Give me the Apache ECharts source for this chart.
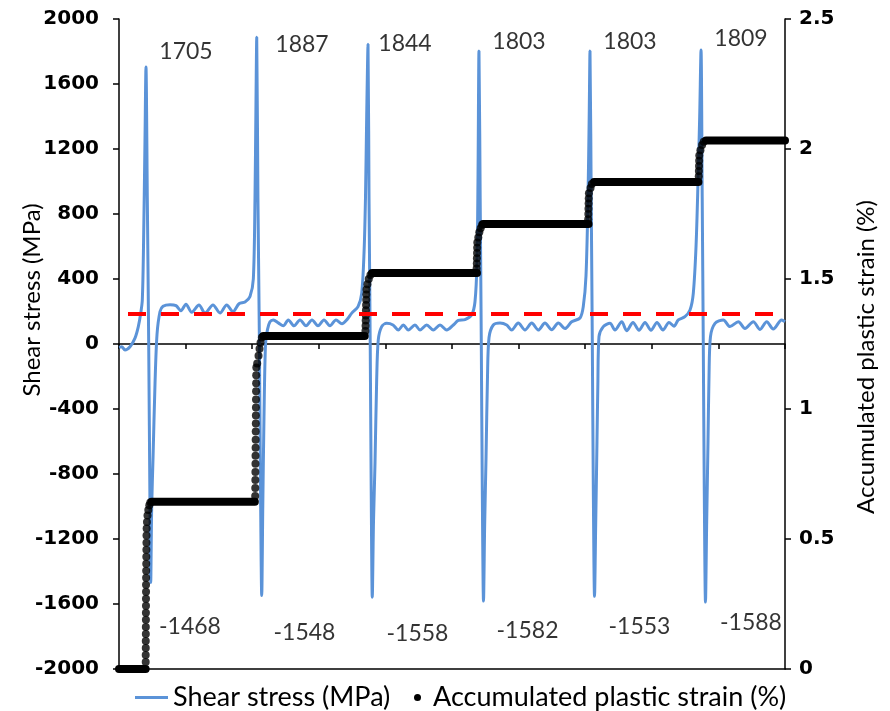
<!DOCTYPE html>
<html>
<head>
<meta charset="utf-8">
<script src="https://cdn.jsdelivr.net/npm/echarts@6/dist/echarts.min.js"></script>
<style>html,body{margin:0;padding:0;background:#fff}#c{width:890px;height:711px}</style>
</head>
<body>
<div id="c"></div>
<script>
// ---- Data ----
// x axis: time in tick units (0..10), unlabeled
const stressTime = [
  0.000,0.041,0.090,0.165,0.240,0.290,0.326,0.350,0.368,0.390,0.405,0.425,0.446,0.465,0.476,0.491,0.511,0.541,0.571,0.616,0.661,0.766,0.856,0.931,1.006,1.092,1.201,1.291,1.411,1.517,1.617,1.712,1.802,1.892,1.967,2.017,2.042,2.057,2.068,
  2.086,2.107,2.125,2.143,2.159,2.177,2.200,2.230,2.267,2.317,2.392,2.467,2.542,2.628,2.718,2.808,2.898,2.988,3.078,3.168,3.258,3.348,3.423,3.495,3.589,3.644,3.679,3.701,3.719,3.739,
  3.754,3.772,3.787,3.803,3.821,3.844,3.869,3.893,3.944,4.019,4.114,4.194,4.269,4.344,4.444,4.520,4.620,4.719,4.820,4.920,5.020,5.095,5.195,5.296,5.345,5.375,5.390,5.405,
  5.423,5.440,5.455,5.473,5.491,5.511,5.533,5.556,5.620,5.721,5.821,5.896,5.995,6.096,6.197,6.296,6.396,6.497,6.596,6.697,6.797,6.922,6.971,7.012,7.042,7.060,7.072,
  7.090,7.107,7.122,7.140,7.158,7.177,7.190,7.207,7.272,7.372,7.447,7.548,7.623,7.718,7.808,7.898,7.988,8.078,8.168,8.258,8.333,8.398,8.498,8.574,8.623,8.664,8.694,8.719,8.739,
  8.757,8.773,8.788,8.806,8.824,8.844,8.859,8.881,8.949,9.074,9.174,9.299,9.399,9.524,9.625,9.725,9.824,9.950,10.000
];
const stressValue = [
  -20,-17,-37,-17,36,107,189,271,600,1250,1705,900,0,-1000,-1468,-1000,-700,-240,60,200,232,242,236,205,245,196,240,191,240,191,240,200,248,258,292,400,900,1500,1887,
  900,60,-900,-1548,-1000,-450,0,90,137,148,130,112,148,112,148,112,148,112,148,112,148,125,150,190,230,312,560,900,1400,1844,
  900,0,-900,-1558,-1100,-733,-221,25,107,127,117,86,117,86,117,86,117,86,117,86,117,145,150,180,260,500,1000,1803,
  900,0,-900,-1582,-1100,-700,-200,40,117,129,117,86,129,86,129,86,129,88,129,95,137,160,230,420,900,1400,1803,
  900,0,-900,-1553,-1100,-600,-250,45,107,127,86,137,82,133,84,133,84,133,86,133,110,148,168,209,312,600,1000,1400,1809,
  900,0,-900,-1588,-1100,-600,-200,45,127,148,107,137,96,137,90,137,92,148,137
];

// accumulated plastic strain: constant plateaus between cycles
const plateauStart = [0.000, 0.490, 2.167, 3.800, 5.465, 7.133, 8.814];
const plateauEnd   = [0.400, 2.040, 3.690, 5.375, 7.050, 8.700, 10.000];
const plateauValue = [0.000, 0.643, 1.281, 1.523, 1.712, 1.873, 2.033];
// points recorded during each jump
const riseTime = [
  0.401,0.401,0.402,0.402,0.403,0.403,0.404,0.404,0.405,0.405,0.406,0.406,0.407,0.408,0.409,0.410,0.411,0.412,0.413,0.415,0.420,0.428,0.440,0.455,0.470,
  2.045,2.046,2.047,2.048,2.049,2.050,2.051,2.052,2.053,2.054,2.055,2.056,2.057,2.058,2.059,2.060,2.062,2.075,2.095,2.110,2.125,2.145,
  3.700,3.702,3.704,3.706,3.708,3.710,3.712,3.714,3.716,3.730,3.750,3.775,
  5.370,5.372,5.374,5.376,5.378,5.380,5.395,5.410,5.430,5.450,
  7.045,7.047,7.049,7.051,7.053,7.056,7.080,7.100,
  8.705,8.707,8.709,8.711,8.713,8.730,8.755,8.780
];
const riseStrain = [
  0.027,0.054,0.081,0.108,0.135,0.162,0.189,0.216,0.243,0.270,0.297,0.324,0.351,0.378,0.405,0.432,0.459,0.486,0.513,0.540,0.565,0.590,0.612,0.630,0.640,
  0.665,0.696,0.727,0.758,0.789,0.820,0.851,0.882,0.913,0.944,0.975,1.006,1.037,1.068,1.099,1.130,1.160,1.175,1.205,1.232,1.255,1.275,
  1.300,1.320,1.340,1.360,1.380,1.400,1.420,1.440,1.460,1.480,1.500,1.515,
  1.540,1.560,1.580,1.600,1.620,1.640,1.660,1.680,1.695,1.708,
  1.730,1.750,1.770,1.790,1.810,1.830,1.850,1.865,
  1.895,1.915,1.935,1.955,1.975,1.995,2.015,2.028
];

const thresholdStress = 185;

const peakValues   = [1705, 1887, 1844, 1803, 1803, 1809];
const valleyValues = [-1468, -1548, -1558, -1582, -1553, -1588];
// label anchor positions (data coordinates)
const peakLabelX   = [1.006, 2.748, 4.294, 6.006, 7.673, 9.339];
const peakLabelY   = [1797, 1840, 1846, 1862, 1862, 1877];
const valleyLabelX = [1.066, 2.785, 4.482, 6.134, 7.815, 9.489];
const valleyLabelY = [-1742, -1778, -1785, -1763, -1742, -1717];

const leftTicks = {min: -2000, max: 2000, interval: 400};
const rightTicks = {min: 0, max: 2.5, interval: 0.5};

const S1 = 'Shear stress (MPa)';
const S2 = 'Accumulated plastic strain (%)';

// ---- build series data ----
const stressData = stressTime.map((t, i) => [t, stressValue[i]]);
const plateauData = [];
plateauStart.forEach((s, i) => {
  plateauData.push([s, plateauValue[i]]);
  plateauData.push([plateauEnd[i], plateauValue[i]]);
  if (i < plateauStart.length - 1) plateauData.push([plateauEnd[i], '-']);
});
const riseData = riseTime.map((t, i) => [t, riseStrain[i]]);
const annotData = [];
peakValues.forEach((v, i) => annotData.push({name: String(v), value: [peakLabelX[i], peakLabelY[i]]}));
valleyValues.forEach((v, i) => annotData.push({name: String(v), value: [valleyLabelX[i], valleyLabelY[i]]}));

const FONT_T = 'Lato, "Open Sans", sans-serif';
const FONT_N = '"DejaVu Sans", Verdana, sans-serif';

const chart = echarts.init(document.getElementById('c'), null, {renderer: 'canvas'});
chart.setOption({
  animation: false,
  backgroundColor: '#ffffff',
  grid: {left: 119, right: 105, top: 19, bottom: 42},
  xAxis: [
    {type: 'value', min: 0, max: 10, interval: 1, position: 'top',
     axisLine: {show: true, onZero: true, onZeroAxisIndex: 0, lineStyle: {color: '#000', width: 1.5}},
     axisTick: {show: true, inside: true, length: 5, lineStyle: {color: '#000', width: 1.5}},
     axisLabel: {show: false}, splitLine: {show: false}},
    {type: 'value', min: 0, max: 10, interval: 1, position: 'bottom',
     axisLine: {show: true, onZero: false, lineStyle: {color: '#000', width: 1.5}},
     axisTick: {show: false}, axisLabel: {show: false}, splitLine: {show: false}}
  ],
  yAxis: [
    {type: 'value', position: 'left', min: leftTicks.min, max: leftTicks.max, interval: leftTicks.interval,
     axisLine: {show: true, onZero: false, lineStyle: {color: '#000', width: 1.5}},
     axisTick: {show: true, length: 6, lineStyle: {color: '#000', width: 1.5}},
     axisLabel: {color: '#000', fontFamily: FONT_N, fontWeight: 'bold', fontSize: 20, margin: 20,
                 formatter: v => String(v)},
     splitLine: {show: false}},
    {type: 'value', position: 'right', min: rightTicks.min, max: rightTicks.max, interval: rightTicks.interval,
     axisLine: {show: true, onZero: false, lineStyle: {color: '#000', width: 1.5}},
     axisTick: {show: true, length: 6, lineStyle: {color: '#000', width: 1.5}},
     axisLabel: {color: '#000', fontFamily: FONT_N, fontWeight: 'bold', fontSize: 20, margin: 14,
                 formatter: v => String(v)},
     splitLine: {show: false}}
  ],
  legend: [
    {data: [{name: S1, icon: 'rect'}], left: 130, top: 679, itemWidth: 33, itemHeight: 3,
     selectedMode: false, textStyle: {fontFamily: FONT_T, fontSize: 27, color: '#000'}},
    {data: [{name: S2, icon: 'circle'}], left: 409, top: 679, itemWidth: 7, itemHeight: 7,
     selectedMode: false, textStyle: {fontFamily: FONT_T, fontSize: 27, color: '#000', padding: [0, 0, 0, 7]}}
  ],
  graphic: [
    {type: 'text', x: 32, y: 300, rotation: Math.PI / 2,
     style: {text: 'Shear stress (MPa)', font: '24px Lato', fill: '#000', align: 'center', verticalAlign: 'middle', textAlign: 'center', textVerticalAlign: 'middle'}},
    {type: 'text', x: 866, y: 357, rotation: Math.PI / 2,
     style: {text: 'Accumulated plastic strain (%)', font: '24px Lato', fill: '#000', align: 'center', verticalAlign: 'middle', textAlign: 'center', textVerticalAlign: 'middle'}}
  ],
  series: [
    {name: S1, type: 'line', xAxisIndex: 0, yAxisIndex: 0, data: stressData,
     smooth: 0.3, symbol: 'none', z: 2,
     lineStyle: {color: '#5B93D8', width: 3}, itemStyle: {color: '#5B93D8'}},
    {name: S2, type: 'line', xAxisIndex: 0, yAxisIndex: 1, data: plateauData,
     symbol: 'none', connectNulls: false, z: 3,
     lineStyle: {color: '#000', width: 8, cap: 'round'}, itemStyle: {color: '#000'}},
    {name: S2, type: 'scatter', xAxisIndex: 0, yAxisIndex: 1, data: riseData,
     symbol: 'circle', symbolSize: 8, z: 3, itemStyle: {color: '#000'}},
    {name: 'threshold', type: 'line', xAxisIndex: 0, yAxisIndex: 0,
     data: [[0, thresholdStress], [10, thresholdStress]], symbol: 'none', z: 5, silent: true,
     lineStyle: {color: '#FF0000', width: 4, type: [18, 15], dashOffset: 24}},
    {name: 'labels', type: 'scatter', xAxisIndex: 0, yAxisIndex: 0, data: annotData,
     symbolSize: 1, z: 6, silent: true, itemStyle: {color: 'rgba(0,0,0,0)'},
     label: {show: true, position: 'inside', formatter: '{b}', color: '#000',
             fontFamily: FONT_T, fontSize: 23}}
  ]
});
</script>
</body>
</html>
